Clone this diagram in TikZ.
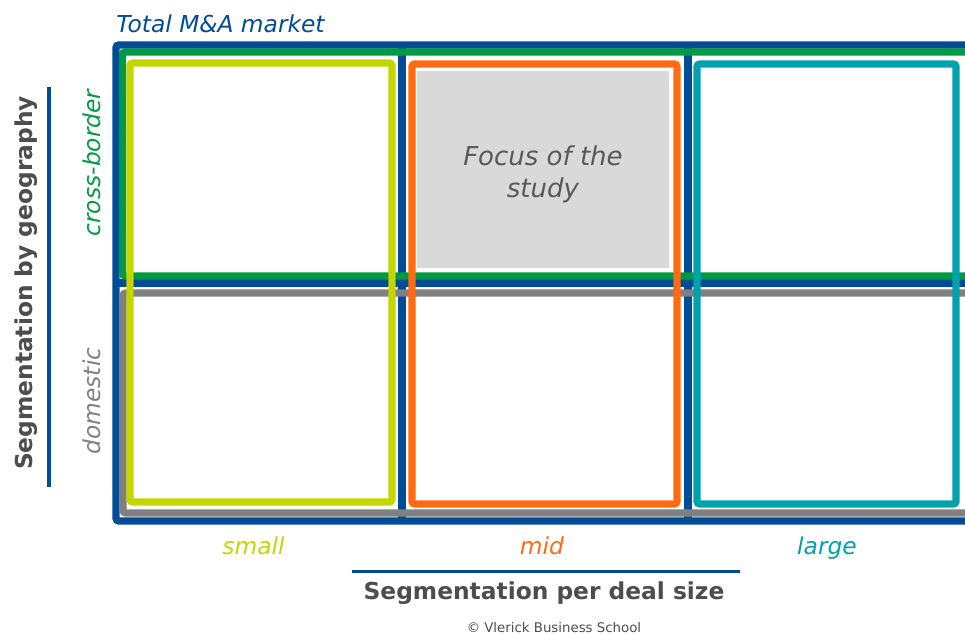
\documentclass[tikz,border=0pt]{standalone}
\usepackage{fontspec}
\setmainfont{DejaVu Sans}
\definecolor{mablue}{RGB}{0,76,151}
\definecolor{magreen}{RGB}{0,154,68}
\definecolor{malime}{RGB}{196,214,0}
\definecolor{maorange}{RGB}{255,106,19}
\definecolor{mateal}{RGB}{0,163,173}
\definecolor{magray}{RGB}{128,128,128}
\definecolor{mafocus}{RGB}{217,217,217}
\definecolor{madark}{RGB}{77,77,77}
\definecolor{mafocustext}{RGB}{89,89,89}
\tikzset{
  frameline/.style={line width=5.4pt, rounded corners=2pt},
  lbl/.style={font=\fontsize{17.5}{20}\selectfont\itshape, inner sep=0pt},
  axislbl/.style={font=\fontsize{17.5}{20}\selectfont\bfseries, text=madark, inner sep=0pt},
}
\begin{document}
\begin{tikzpicture}[x=0.75pt,y=-0.75pt]
\useasboundingbox (0,0) rectangle (965,635);
\begin{scope}
\clip (0,0) rectangle (965,635);
% total market frame and grid
\draw[frameline, mablue] (116,45) rectangle (1000,521);
\draw[line width=5.4pt, mablue] (402,45) -- (402,521);
\draw[line width=5.4pt, mablue] (688,45) -- (688,521);
\draw[line width=5.4pt, mablue] (116,283) -- (1000,283);
% cross-border and domestic rows
\draw[frameline, magreen] (122.5,52) rectangle (1000,276);
\draw[frameline, magray] (123,293) rectangle (1000,513);
% focus cell
\fill[mafocus] (417,71) rectangle (669,268);
% deal-size columns
\draw[frameline, malime] (130,63) rectangle (392,502);
\draw[frameline, maorange] (412,64) rectangle (677,504);
\draw[frameline, mateal] (697,64) rectangle (956,504);
\end{scope}
% texts
\node[lbl, text=mablue, anchor=base west] (total) at (116,33) {Total M\&A market};
\node[inner sep=0pt, align=center, text=mafocustext, font=\fontsize{19.5}{24}\selectfont\itshape] (focus) at (543,174) {Focus of the\\study};
\node[lbl, text=magreen, rotate=90, anchor=base] (cb) at (100,163) {cross-border};
\node[lbl, text=magray, rotate=90, anchor=base] (dom) at (100,401) {domestic};
\node[axislbl, rotate=90, anchor=base] (geo) at (32,283) {Segmentation by geography};
\draw[line width=2.3pt, mablue] (49,87) coordinate (g1) -- (49,487) coordinate (g2);
\node[lbl, text=malime, anchor=base] (small) at (253.5,554) {small};
\node[lbl, text=maorange, anchor=base] (mid) at (542,554) {mid};
\node[lbl, text=mateal, anchor=base] (large) at (827,554) {large};
\draw[line width=2.6pt, mablue] (352,571.5) coordinate (d1) -- (740,571.5) coordinate (d2);
\node[axislbl, anchor=base] (deal) at (544,599) {Segmentation per deal size};
\node[inner sep=0pt, text=madark, font=\fontsize{10}{12}\selectfont, anchor=base] (copy) at (554,632) {© Vlerick Business School};
\end{tikzpicture}
\end{document}
